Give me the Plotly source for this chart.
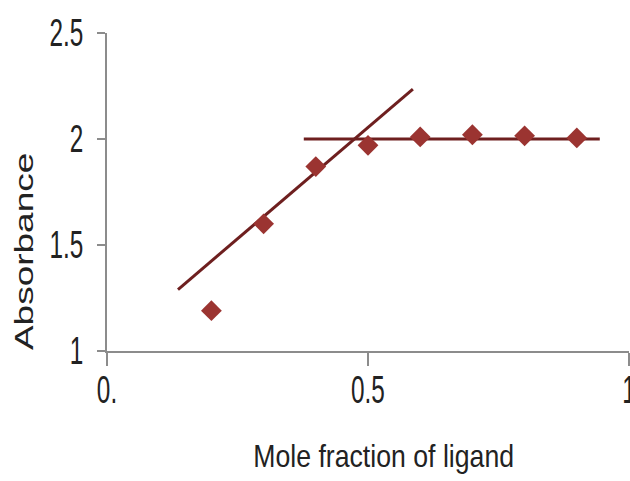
import plotly.graph_objects as go

# Job's method data: mole fraction of ligand vs. absorbance
mole_fraction = [0.2, 0.3, 0.4, 0.5, 0.6, 0.7, 0.8, 0.9]
absorbance = [1.19, 1.60, 1.87, 1.97, 2.01, 2.02, 2.015, 2.005]

# Tangent lines drawn through the rising and plateau regions
rise_x = [0.136, 0.586]
rise_y = [1.29, 2.235]
plateau_x = [0.377, 0.944]
plateau_y = [2.0, 2.0]

x_tick_vals = [0, 0.5, 1]
x_tick_text = ["0.", "0.5", "1"]
y_tick_vals = [1, 1.5, 2, 2.5]
y_tick_text = ["1", "1.5", "2", "2.5"]

FONT = "Liberation Sans, Arial, sans-serif"
TEXT = "#222222"
AXIS_GREY = "#8c8c8c"
LINE_RED = "#6e1f1f"
MARKER_RED = "#9b3431"

fig = go.Figure()
fig.add_trace(go.Scatter(x=rise_x, y=rise_y, mode="lines",
                         line=dict(color=LINE_RED, width=3), hoverinfo="skip"))
fig.add_trace(go.Scatter(x=plateau_x, y=plateau_y, mode="lines",
                         line=dict(color=LINE_RED, width=3), hoverinfo="skip"))
fig.add_trace(go.Scatter(x=mole_fraction, y=absorbance, mode="markers",
                         marker=dict(symbol="diamond", size=16, color=MARKER_RED,
                                     line=dict(width=0))))

fig.update_layout(
    width=630, height=481,
    margin=dict(l=107, r=1, t=33, b=130),
    paper_bgcolor="white", plot_bgcolor="white",
    showlegend=False,
    font=dict(family=FONT, color=TEXT),
    xaxis=dict(range=[0, 1], tickvals=x_tick_vals, ticktext=x_tick_text,
               automargin=False,
               showgrid=False, zeroline=False, showline=True,
               linecolor=AXIS_GREY, linewidth=2,
               ticks="outside", ticklen=13, tickwidth=2, tickcolor=AXIS_GREY,
               ticklabeloverflow="allow", ticklabelstandoff=-9,
               tickfont=dict(size=38, family=FONT, color=TEXT)),
    yaxis=dict(range=[1, 2.5], tickvals=y_tick_vals, ticktext=y_tick_text,
               automargin=False,
               showgrid=False, zeroline=False, showline=True,
               linecolor=AXIS_GREY, linewidth=2,
               ticks="outside", ticklen=8, tickwidth=2, tickcolor=AXIS_GREY,
               ticklabeloverflow="allow", ticklabelstandoff=6,
               tickfont=dict(size=38, family=FONT, color=TEXT)),
    annotations=[
        dict(text="Absorbance", textangle=-90, showarrow=False,
             xref="paper", yref="paper", x=-0.159, y=0.311,
             xanchor="center", yanchor="middle",
             font=dict(size=37, family=FONT, color=TEXT)),
        dict(text="Mole fraction of ligand", showarrow=False,
             xref="paper", yref="paper", x=0.529, y=-0.333,
             xanchor="center", yanchor="middle",
             font=dict(size=31, family=FONT, color=TEXT)),
    ],
)

# Condensed lettering: squeeze each label horizontally (in page space)
# about an anchor point, whatever rotation its parent group carries.
condense_js = """
(function(){
  var gd = document.getElementById('{plot_id}');
  var NS = 'http://www.w3.org/2000/svg';
  function squeeze(el, s, anchor){
    if (!el || el.getAttribute('data-sq')) return;
    var r = el.getBoundingClientRect();
    var px = anchor === 'right' ? r.right : r.left + r.width / 2;
    var parent = el.parentNode;
    var svg = el.ownerSVGElement;
    var M = parent.getScreenCTM();
    var S = svg.createSVGMatrix().translate(px, 0).scaleNonUniform(s, 1).translate(-px, 0);
    var T = M.inverse().multiply(S).multiply(M);
    var g = document.createElementNS(NS, 'g');
    g.setAttribute('transform', 'matrix(' + [T.a, T.b, T.c, T.d, T.e, T.f].join(',') + ')');
    parent.insertBefore(g, el);
    g.appendChild(el);
    el.setAttribute('data-sq', '1');
  }
  gd.querySelectorAll('.ytick text').forEach(function(el){ squeeze(el, 0.64, 'right'); });
  gd.querySelectorAll('.xtick text').forEach(function(el){ squeeze(el, 0.64, 'center'); });
  var annScale = {'0': 0.68, '1': 0.86};
  gd.querySelectorAll('g.annotation').forEach(function(a){
    var idx = a.getAttribute('data-index');
    squeeze(a.querySelector('text.annotation-text'), annScale[idx] || 1, 'center');
  });
})();
"""

fig.write_html("out.html", post_script=condense_js)
